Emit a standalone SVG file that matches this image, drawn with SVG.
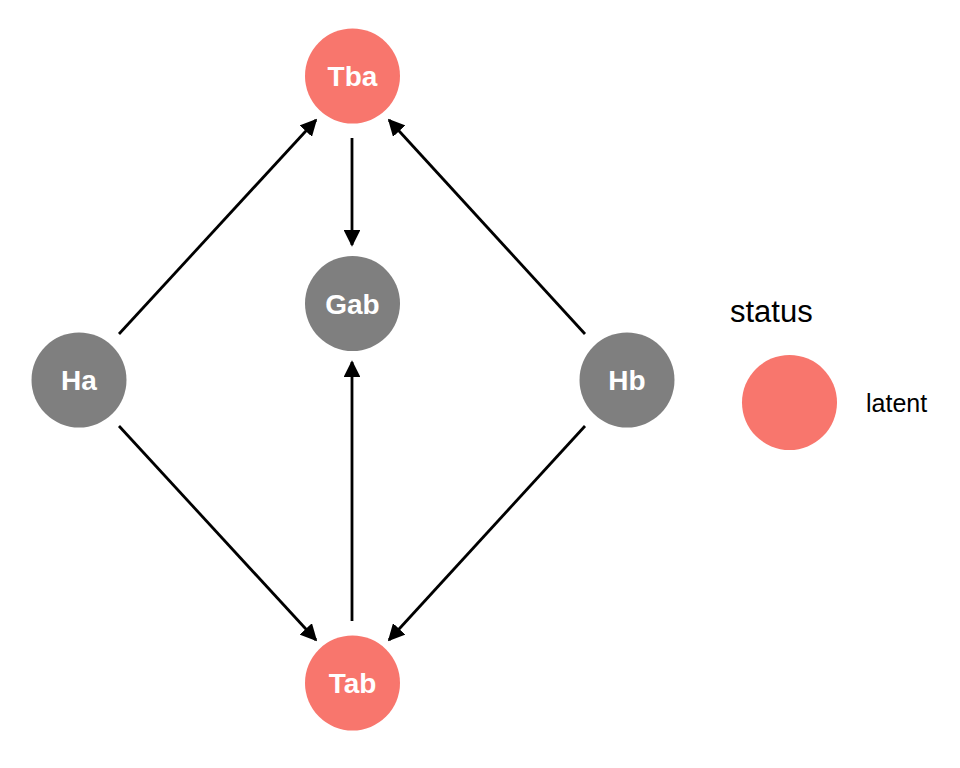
<svg xmlns="http://www.w3.org/2000/svg" width="960" height="768" viewBox="0 0 960 768">
<style>
.lat{fill:#F8766D}
.obs{fill:#7F7F7F}
.lbl{font-family:"Liberation Sans",Arial,sans-serif;font-weight:bold;font-size:28px;fill:#FFFFFF;text-anchor:middle}
.edge{stroke:#000;stroke-width:2.8;fill:none;marker-end:url(#ah)}
.leg{font-family:"Liberation Sans",Arial,sans-serif;fill:#000}
</style>
<defs>
<marker id="ah" viewBox="0 0 10 10" refX="9" refY="5" markerWidth="6" markerHeight="6" markerUnits="strokeWidth" orient="auto">
<path d="M0,0 L10,5 L0,10 Z" fill="#000"/>
</marker>
</defs>
<rect width="960" height="768" fill="#FFFFFF"/>
<g id="connectors">
<line class="edge" x1="352" y1="138" x2="352" y2="245"/>
<line class="edge" x1="352" y1="621" x2="352" y2="362"/>
<line class="edge" x1="119" y1="334" x2="316" y2="120"/>
<line class="edge" x1="119" y1="426" x2="316" y2="640"/>
<line class="edge" x1="585" y1="334" x2="389" y2="120"/>
<line class="edge" x1="585" y1="426" x2="389" y2="640"/>
</g>
<g id="Tba"><circle class="lat" cx="352.5" cy="76" r="47.5"/><text class="lbl" x="352.5" y="86">Tba</text></g>
<g id="Gab"><circle class="obs" cx="352.5" cy="303.5" r="47.5"/><text class="lbl" x="352.5" y="313.5">Gab</text></g>
<g id="Ha"><circle class="obs" cx="79" cy="380" r="47.5"/><text class="lbl" x="79" y="390">Ha</text></g>
<g id="Hb"><circle class="obs" cx="627" cy="380" r="47.5"/><text class="lbl" x="627" y="390">Hb</text></g>
<g id="Tab"><circle class="lat" cx="352.5" cy="683" r="47.5"/><text class="lbl" x="352.5" y="693">Tab</text></g>
<g id="legend">
<text class="leg" x="730" y="322" font-size="31">status</text>
<circle class="lat" cx="789.5" cy="402.5" r="47.5"/>
<text class="leg" x="866" y="412" font-size="25">latent</text>
</g>
</svg>
